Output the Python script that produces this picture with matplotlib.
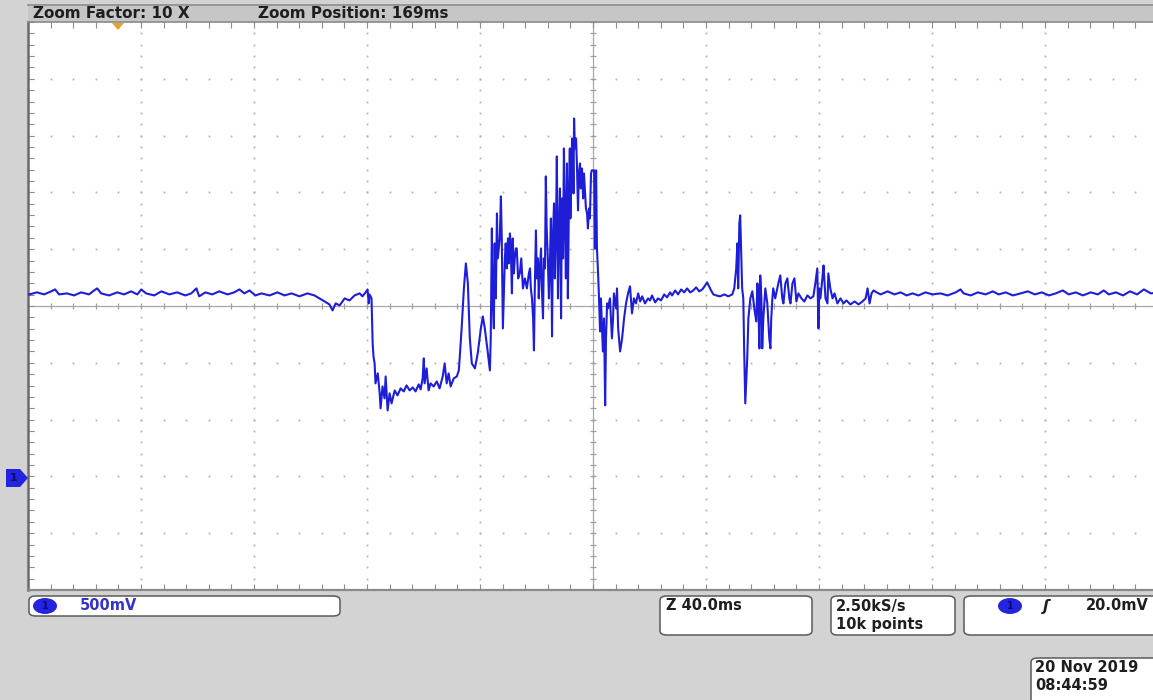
import numpy as np
import matplotlib
matplotlib.use("Agg")
import matplotlib.pyplot as plt
from matplotlib.patches import FancyBboxPatch, Rectangle, Polygon, Ellipse

# ---- acquisition settings -------------------------------------------------
zoom_factor = 10
zoom_position_ms = 169
time_per_div_ms = 40.0
volts_per_div = 0.5
ch1_offset_div = 3          # ground reference sits 3 divisions below centre
n_hdiv, n_vdiv = 10, 10
trigger_level = "20.0mV"
sample_rate = "2.50kS/s"
record_length = "10k points"
timestamp = ("20 Nov 2019", "08:44:59")

# ---- channel 1 trace (time in ms, voltage in V) ----------------------------
lead_t = [-30.6, -27.8, -25.3, -22.8, -21.4, -20.0, -17.2, -14.7, -12.2, -9.4,
          -7.6, -6.5, -5.1, -2.3, 0.6, 3.0, 5.5, 7.7, 9.1, 10.8, 13.7, 16.2,
          19.0, 21.8, 24.7, 26.8, 28.6, 29.6, 31.8, 34.2, 36.7, 39.6, 42.0,
          43.8, 45.6, 47.4, 49.5, 51.6, 54.5, 57.3, 59.8, 62.3, 65.1, 67.9,
          70.4, 72.2, 74.0, 75.7, 76.8, 77.9, 79.3, 81.1, 82.8, 84.6, 86.4,
          87.4, 88.5, 89.2, 89.6, 89.9, 90.6]
lead_v = [1.602, 1.620, 1.602, 1.629, 1.646, 1.602, 1.611, 1.593, 1.620, 1.602,
          1.637, 1.655, 1.611, 1.593, 1.620, 1.602, 1.629, 1.602, 1.646, 1.611,
          1.593, 1.629, 1.602, 1.620, 1.593, 1.611, 1.655, 1.585, 1.620, 1.602,
          1.629, 1.602, 1.620, 1.646, 1.611, 1.637, 1.593, 1.611, 1.593, 1.620,
          1.593, 1.611, 1.585, 1.611, 1.593, 1.567, 1.540, 1.514, 1.461, 1.523,
          1.505, 1.567, 1.549, 1.593, 1.611, 1.585, 1.620, 1.646, 1.523, 1.602,
          1.567]

dip_t = [91.0, 91.3, 91.7, 92.0, 92.8, 93.5, 93.8, 94.5, 95.2, 95.6, 96.3,
         97.0, 97.7, 98.8, 99.8, 100.9, 102.0, 103.0, 104.1, 105.2, 106.2,
         107.3, 108.0, 108.7, 109.1, 109.4, 110.1, 110.8, 111.5, 112.6, 113.7,
         114.7, 115.8, 116.5, 117.2, 117.9, 118.6, 119.7, 120.8, 121.5, 121.8]
dip_v = [1.171, 1.056, 0.995, 0.819, 0.907, 0.731, 0.599, 0.792, 0.687, 0.880,
         0.581, 0.731, 0.643, 0.757, 0.713, 0.775, 0.748, 0.801, 0.757, 0.783,
         0.748, 0.810, 0.766, 0.863, 1.039, 0.819, 0.951, 0.757, 0.819, 0.792,
         0.836, 0.775, 0.880, 0.995, 0.819, 0.907, 0.792, 0.863, 0.880, 0.933,
         1.039]

rise_t = [122.5, 123.3, 124.0, 124.7, 125.4, 126.1, 127.2, 128.2, 129.3, 130.0,
          130.7, 131.8, 132.5, 132.8, 133.2, 133.5, 133.9, 134.2, 134.6, 135.0,
          135.3, 136.0, 136.4, 136.7, 137.1, 137.4, 137.8, 138.1, 138.5, 138.9,
          139.2, 139.6, 139.9, 140.3, 140.6, 141.0, 141.3, 141.7, 142.0, 142.5,
          143.1, 143.6, 144.2, 144.9, 145.6, 146.3]
rise_v = [1.303, 1.655, 1.875, 1.699, 1.215, 0.995, 0.951, 1.083, 1.303, 1.408,
          1.303, 1.083, 0.933, 1.215, 2.183, 1.567, 1.303, 2.051, 1.567, 2.315,
          1.919, 2.095, 2.465, 2.095, 1.303, 1.567, 1.919, 2.051, 1.831, 2.095,
          1.875, 2.139, 2.007, 1.611, 2.095, 1.787, 1.919, 2.007, 2.007, 1.743,
          1.787, 1.919, 1.655, 1.743, 1.655, 1.787]

burst_t = [146.7, 147.0, 147.4, 147.8, 148.1, 148.4, 148.8, 149.1, 149.5, 149.8,
           150.2, 150.6, 150.9, 151.3, 151.6, 152.0, 152.3, 152.6, 153.0, 153.4,
           153.7, 154.1, 154.5, 154.8, 155.2, 155.5, 155.9, 156.2, 156.6, 156.9,
           157.3, 157.7, 158.0, 158.4, 158.7, 159.1, 159.4, 159.8, 160.1, 160.5,
           160.8, 161.0, 161.2, 161.6, 161.9, 162.1, 162.3, 162.6, 163.0, 163.3,
           163.7, 164.0, 164.4, 164.7, 165.1, 165.5, 165.8, 166.2, 166.5, 166.9,
           167.2, 167.6, 167.9, 168.3, 168.6, 169.4, 169.7, 170.1, 170.4, 170.8,
           171.1]
burst_v = [1.831, 1.655, 1.567, 1.391, 1.109, 1.655, 2.165, 1.743, 1.919, 1.567,
           1.831, 2.007, 1.655, 1.391, 1.919, 1.831, 2.641, 2.183, 1.919, 1.567,
           1.831, 2.271, 1.232, 2.095, 2.403, 1.743, 2.183, 2.817, 1.567, 2.095,
           2.535, 1.391, 2.447, 1.919, 2.887, 2.271, 1.743, 2.755, 1.567, 2.447,
           2.887, 2.271, 2.535, 2.975, 2.799, 2.491, 3.151, 2.887, 2.975, 2.755,
           2.342, 2.667, 2.755, 2.535, 2.711, 2.447, 2.667, 2.491, 2.359, 2.315,
           2.183, 2.359, 2.271, 2.667, 2.694, 2.694, 2.007, 2.694, 2.007, 1.787,
           1.593]

ring_t = [171.5, 171.8, 172.2, 172.5, 172.9, 173.3, 173.6, 174.0, 174.3, 175.0,
          175.7, 176.1, 176.4, 177.2, 177.5, 177.9, 178.6, 179.3, 180.0, 180.7,
          181.4, 182.1, 182.8, 183.5, 184.2, 185.0, 185.7, 186.4, 187.4, 188.5,
          189.2, 189.9, 191.0, 192.0, 193.1, 194.2, 195.2, 196.3, 197.0, 198.1,
          199.1, 200.2, 201.3, 202.3, 203.4, 204.5, 205.5, 206.6, 207.7, 208.7,
          209.4, 210.1, 210.8, 211.6, 212.6, 214.0, 215.5, 216.9, 218.3]
ring_v = [1.276, 1.567, 1.303, 1.100, 1.391, 0.625, 1.215, 1.523, 1.479, 1.567,
          1.215, 1.391, 1.611, 1.479, 1.655, 1.303, 1.100, 1.215, 1.391, 1.523,
          1.611, 1.673, 1.435, 1.567, 1.523, 1.611, 1.540, 1.585, 1.523, 1.567,
          1.549, 1.593, 1.532, 1.567, 1.549, 1.602, 1.576, 1.620, 1.593, 1.637,
          1.602, 1.646, 1.620, 1.655, 1.620, 1.637, 1.664, 1.629, 1.646, 1.681,
          1.708, 1.673, 1.637, 1.602, 1.593, 1.585, 1.602, 1.585, 1.602]

spikes_t = [219.0, 219.7, 220.1, 220.4, 220.8, 221.1, 221.5, 221.8, 222.2, 222.5,
            222.9, 223.3, 223.6, 224.0, 224.7, 225.4, 226.1, 226.8, 227.2, 227.5,
            227.9, 228.2, 228.6, 228.9, 229.3, 230.0, 230.7, 231.4, 231.8, 232.1,
            232.5, 232.8, 233.5, 234.6, 235.3, 236.0, 236.4, 237.1, 237.8, 238.5,
            238.9, 239.6, 240.3, 241.0, 241.7, 242.8, 243.8, 244.9, 246.0, 247.0,
            247.7, 248.4, 248.8, 249.1, 249.5, 250.2, 250.6, 251.3, 252.0, 252.3,
            253.0, 253.8, 254.5, 255.5, 256.6, 257.7, 258.7, 260.1, 261.6, 263.0,
            264.4, 265.5, 266.2, 266.9, 267.6, 268.3, 269.4]
spikes_v = [1.655, 1.831, 2.051, 1.655, 2.227, 2.298, 1.919, 1.655, 1.567, 1.127,
            0.643, 0.863, 1.039, 1.391, 1.567, 1.629, 1.479, 1.364, 1.699, 1.567,
            1.127, 1.769, 1.567, 1.127, 1.391, 1.655, 1.523, 1.215, 1.127, 1.391,
            1.567, 1.655, 1.567, 1.699, 1.769, 1.567, 1.523, 1.699, 1.743, 1.567,
            1.523, 1.699, 1.743, 1.540, 1.611, 1.567, 1.540, 1.593, 1.567, 1.585,
            1.699, 1.831, 1.303, 1.655, 1.567, 1.743, 1.857, 1.567, 1.523, 1.787,
            1.655, 1.567, 1.611, 1.523, 1.567, 1.523, 1.549, 1.514, 1.540, 1.514,
            1.540, 1.567, 1.655, 1.523, 1.611, 1.637, 1.620]

tail_t = [270.8, 273.3, 275.7, 277.9, 280.0, 282.1, 284.2, 286.7, 289.2, 292.0,
          294.5, 297.4, 299.1, 300.2, 302.7, 305.2, 308.0, 310.5, 312.6, 315.1,
          317.6, 320.4, 322.9, 325.4, 327.9, 330.4, 332.8, 335.3, 337.4, 339.9,
          342.4, 345.2, 347.7, 349.8, 351.6, 354.1, 356.6, 359.1, 361.6, 364.0,
          366.5, 369.0]
tail_v = [1.602, 1.629, 1.602, 1.620, 1.593, 1.611, 1.593, 1.620, 1.602, 1.611,
          1.593, 1.620, 1.646, 1.611, 1.593, 1.620, 1.602, 1.629, 1.602, 1.620,
          1.593, 1.611, 1.629, 1.602, 1.620, 1.593, 1.611, 1.637, 1.602, 1.620,
          1.593, 1.620, 1.602, 1.637, 1.602, 1.620, 1.593, 1.629, 1.602, 1.646,
          1.611, 1.620]

time_ms = np.concatenate([lead_t, dip_t, rise_t, burst_t, ring_t, spikes_t, tail_t])
ch1_v = np.concatenate([lead_v, dip_v, rise_v, burst_v, ring_v, spikes_v, tail_v])

# ---- figure ------------------------------------------------------------------
W, H = 1153, 700
fig = plt.figure(figsize=(W / 100, H / 100), dpi=100)
fig.patch.set_facecolor("#d3d3d3")


def fx(x):
    return x / W


def fy(y):
    return 1 - y / H


TRACE = "#1e1ed6"
TXT = "#1e1e1e"
FS = 10.5

# graticule area
ax = fig.add_axes([fx(28), fy(590), fx(1158 - 28), (590 - 22) / H])
ax.set_facecolor("white")

t_lo = zoom_position_ms - n_hdiv / 2 * time_per_div_ms
t_hi = zoom_position_ms + n_hdiv / 2 * time_per_div_ms
v_mid = ch1_offset_div * volts_per_div
v_lo = v_mid - n_vdiv / 2 * volts_per_div
v_hi = v_mid + n_vdiv / 2 * volts_per_div
ax.set_xlim(t_lo, t_hi)
ax.set_ylim(v_lo, v_hi)

major_t = t_lo + time_per_div_ms * np.arange(n_hdiv + 1)
major_v = v_lo + volts_per_div * np.arange(n_vdiv + 1)
minor_t = t_lo + time_per_div_ms / 5 * np.arange(n_hdiv * 5 + 1)
minor_v = v_lo + volts_per_div / 5 * np.arange(n_vdiv * 5 + 1)

# dotted division lines
for mt in major_t[1:-1]:
    if np.isclose(mt, zoom_position_ms):
        continue
    ax.plot(np.full_like(minor_v, mt), minor_v, ls="none", marker="s",
            ms=1.3, mew=0, color="#b4b4b4", zorder=1)
for mv in major_v[1:-1]:
    if np.isclose(mv, v_mid):
        continue
    ax.plot(minor_t, np.full_like(minor_t, mv), ls="none", marker="s",
            ms=1.3, mew=0, color="#b4b4b4", zorder=1)

# centre cross-hair with sub-division ticks
ax.axhline(v_mid, color="#a8a8a8", lw=0.9, zorder=1)
ax.axvline(zoom_position_ms, color="#a8a8a8", lw=0.9, zorder=1)
ax.plot(minor_t, np.full_like(minor_t, v_mid), ls="none", marker="|",
        ms=5, mew=0.9, color="#a0a0a0", zorder=1)
ax.plot(np.full_like(minor_v, zoom_position_ms), minor_v, ls="none",
        marker="_", ms=5, mew=0.9, color="#a0a0a0", zorder=1)

# edge ticks
ax.set_xticks(minor_t)
ax.set_yticks(minor_v)
ax.tick_params(direction="in", length=4, width=0.8, color="#8c8c8c",
               top=True, bottom=True, left=True, right=False,
               labelbottom=False, labelleft=False)
for side, col, lw in [("left", "#6a6a6a", 1.8), ("bottom", "#8a8a8a", 1.6),
                      ("top", "#8a8a8a", 1.2)]:
    ax.spines[side].set_color(col)
    ax.spines[side].set_linewidth(lw)
ax.spines["right"].set_visible(False)

# signal
ax.plot(time_ms, ch1_v, color=TRACE, lw=1.5, zorder=5)

# ---- header bar -----------------------------------------------------------
fig.add_artist(Rectangle((fx(28), fy(22)), fx(1153 - 28), 18 / H,
                         transform=fig.transFigure, fc="#c6c6c6",
                         ec="none", zorder=0))
fig.add_artist(plt.Line2D([fx(28), 1], [fy(4.5), fy(4.5)],
                          transform=fig.transFigure, color="#8e8e8e", lw=1.2))
fig.text(fx(33), fy(13), f"Zoom Factor: {zoom_factor} X", fontsize=FS + 0.5,
         fontweight="bold", color=TXT, va="center", ha="left")
fig.text(fx(258), fy(13), f"Zoom Position: {zoom_position_ms}ms",
         fontsize=FS + 0.5, fontweight="bold", color=TXT, va="center", ha="left")
fig.add_artist(Polygon([(fx(112), fy(23)), (fx(124), fy(23)), (fx(118), fy(30))],
                       closed=True, transform=fig.transFigure,
                       fc="#e2a431", ec="none", zorder=6))

# channel 1 ground marker
fig.add_artist(Polygon([(fx(6), fy(469)), (fx(20), fy(469)), (fx(28), fy(478)),
                        (fx(20), fy(487)), (fx(6), fy(487))], closed=True,
                       transform=fig.transFigure, fc="#2424e0", ec="none",
                       zorder=6))
fig.text(fx(14), fy(478), "1", fontsize=8, fontweight="bold", color="#0a0a70",
         ha="center", va="center", zorder=7)


# ---- readout boxes ---------------------------------------------------------
def readout_box(x0, y0, x1, y1):
    fig.add_artist(FancyBboxPatch((fx(x0), fy(y1)), fx(x1 - x0), (y1 - y0) / H,
                                  boxstyle="round,pad=0,rounding_size=0.006",
                                  transform=fig.transFigure, fc="white",
                                  ec="#5a5a5a", lw=1.1, zorder=2))


def channel_badge(xc, yc):
    fig.add_artist(Ellipse((fx(xc), fy(yc)), 24 / W, 16 / H,
                           transform=fig.transFigure, fc="#2424e0",
                           ec="none", zorder=3))
    fig.text(fx(xc), fy(yc), "1", fontsize=7, fontweight="bold",
             color="#0a0a70", ha="center", va="center", zorder=4)


readout_box(29, 596, 340, 616)
channel_badge(45, 606)
fig.text(fx(80), fy(606), f"{int(volts_per_div * 1000)}mV", fontsize=FS,
         fontweight="bold", color="#3434c8", va="center", ha="left")

readout_box(660, 596, 812, 635)
fig.text(fx(666), fy(606), f"Z {time_per_div_ms:.1f}ms", fontsize=FS,
         fontweight="bold", color=TXT, va="center", ha="left")

readout_box(831, 596, 955, 635)
fig.text(fx(836), fy(606), sample_rate, fontsize=FS, fontweight="bold",
         color=TXT, va="center", ha="left")
fig.text(fx(836), fy(624), record_length, fontsize=FS, fontweight="bold",
         color=TXT, va="center", ha="left")

readout_box(964, 596, 1165, 635)
channel_badge(1010, 606)
fig.text(fx(1046), fy(607), "ʃ", fontsize=11, fontweight="bold",
         color=TXT, va="center", ha="center", style="italic")
fig.text(fx(1149), fy(606), trigger_level, fontsize=FS, fontweight="bold",
         color=TXT, va="center", ha="right")

readout_box(1031, 658, 1165, 705)
fig.text(fx(1035), fy(668), timestamp[0], fontsize=FS, fontweight="bold",
         color=TXT, va="center", ha="left")
fig.text(fx(1035), fy(686), timestamp[1], fontsize=FS, fontweight="bold",
         color=TXT, va="center", ha="left")

fig.savefig("out.png", dpi=100, facecolor=fig.get_facecolor())
